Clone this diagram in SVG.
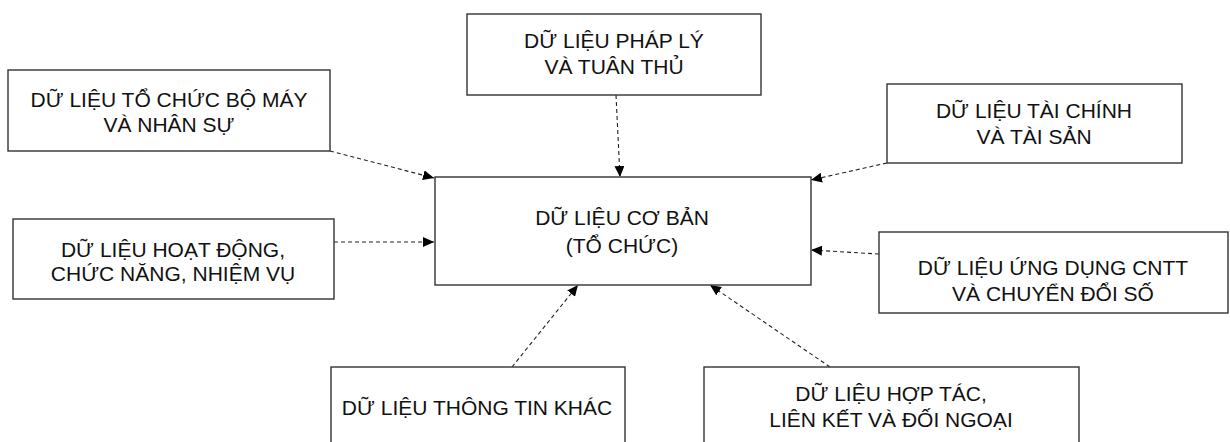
<svg xmlns="http://www.w3.org/2000/svg" width="1230" height="442" viewBox="0 0 1230 442">
<defs>
<marker id="arr" markerUnits="userSpaceOnUse" viewBox="0 0 11 10" refX="11" refY="5" markerWidth="11" markerHeight="10" orient="auto">
<path d="M0,0 L11,5 L0,10 Z" fill="#000"/>
</marker>
<style>
.box{fill:#fff;stroke:#333;stroke-width:1.4}
.t{font-family:"Liberation Sans",Arial,sans-serif;font-size:21px;fill:#111;text-anchor:middle}
.c{fill:none;stroke:#222;stroke-width:1.1;stroke-dasharray:4 3;marker-end:url(#arr)}
</style>
</defs>
<rect width="1230" height="442" fill="#fff"/>
<g id="connectors">
<line class="c" x1="616" y1="95" x2="620" y2="177"/>
<line class="c" x1="330" y1="151" x2="434" y2="178"/>
<line class="c" x1="887" y1="163" x2="811" y2="180"/>
<line class="c" x1="334" y1="242" x2="434" y2="242"/>
<line class="c" x1="879" y1="254" x2="811" y2="250"/>
<line class="c" x1="512" y1="367" x2="578" y2="285"/>
<line class="c" x1="830" y1="367" x2="710" y2="285"/>
</g>
<g id="center">
<rect class="box" x="435" y="177" width="376" height="108"/>
<text class="t" x="622" y="225">DỮ LIỆU CƠ BẢN</text>
<text class="t" x="622" y="253">(TỔ CHỨC)</text>
</g>
<g id="phaply">
<rect class="box" x="467" y="14" width="294" height="81"/>
<text class="t" x="614" y="48">DỮ LIỆU PHÁP LÝ</text>
<text class="t" x="614" y="74">VÀ TUÂN THỦ</text>
</g>
<g id="tochuc">
<rect class="box" x="8" y="70" width="322" height="81"/>
<text class="t" x="169" y="107">DỮ LIỆU TỔ CHỨC BỘ MÁY</text>
<text class="t" x="169" y="132">VÀ NHÂN SỰ</text>
</g>
<g id="taichinh">
<rect class="box" x="887" y="84" width="295" height="79"/>
<text class="t" x="1034" y="118">DỮ LIỆU TÀI CHÍNH</text>
<text class="t" x="1034" y="144">VÀ TÀI SẢN</text>
</g>
<g id="hoatdong">
<rect class="box" x="13" y="219" width="321" height="80"/>
<text class="t" x="173" y="257">DỮ LIỆU HOẠT ĐỘNG,</text>
<text class="t" x="173" y="281">CHỨC NĂNG, NHIỆM VỤ</text>
</g>
<g id="ungdung">
<rect class="box" x="879" y="232" width="349" height="81"/>
<text class="t" x="1053" y="275">DỮ LIỆU ỨNG DỤNG CNTT</text>
<text class="t" x="1053" y="301">VÀ CHUYỂN ĐỔI SỐ</text>
</g>
<g id="thongtinkhac">
<rect class="box" x="331" y="367" width="294" height="90"/>
<text class="t" x="477" y="415">DỮ LIỆU THÔNG TIN KHÁC</text>
</g>
<g id="hoptac">
<rect class="box" x="704" y="367" width="375" height="90"/>
<text class="t" x="891" y="401">DỮ LIỆU HỢP TÁC,</text>
<text class="t" x="891" y="427">LIÊN KẾT VÀ ĐỐI NGOẠI</text>
</g>
</svg>
